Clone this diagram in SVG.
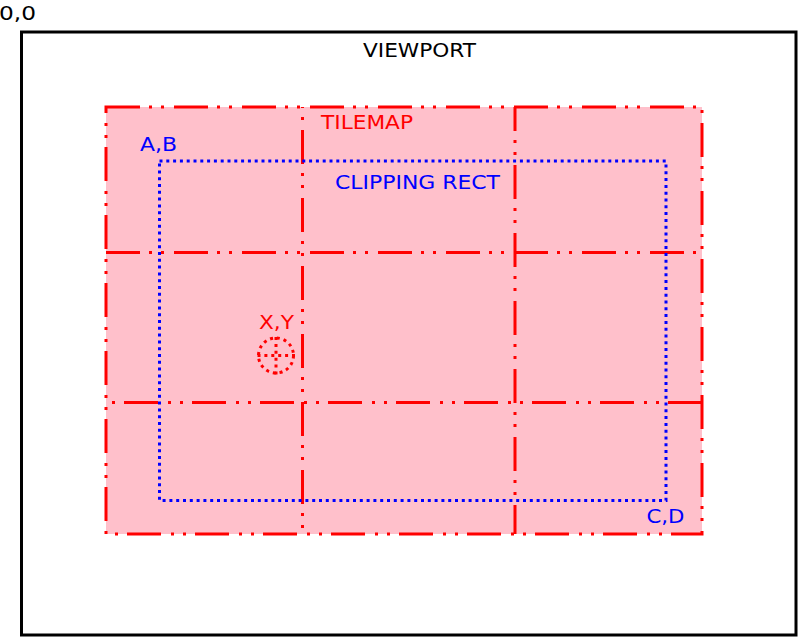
<svg xmlns="http://www.w3.org/2000/svg" width="799" height="638" viewBox="0 0 799 638">
<style>
  text { font-family: "DejaVu Sans", "Liberation Sans", sans-serif; font-size: 20px; }
  .red { fill: #ff0000; }
  .blue { fill: #0000ff; }
  .black { fill: #000000; }
  .dashdot { fill: none; stroke: #ff0000; stroke-width: 3; stroke-dasharray: 34 9 3 9 3 10; }
  .dots { fill: none; stroke: #0000ff; stroke-width: 3; stroke-dasharray: 3 3.8; }
  .rdots { fill: none; stroke: #ff0000; stroke-width: 3; stroke-dasharray: 3 3.9; }
</style>
<rect width="799" height="638" fill="#ffffff"/>
<g id="origin">
  <text class="black" x="-1" y="20" textLength="37" lengthAdjust="spacingAndGlyphs">0,0</text>
</g>
<g id="viewport">
  <rect x="21.5" y="32" width="774.5" height="603" fill="#ffffff" stroke="#000000" stroke-width="3"/>
  <text class="black" x="363" y="57" textLength="113" lengthAdjust="spacingAndGlyphs">VIEWPORT</text>
</g>
<g id="tilemap">
  <rect x="106" y="107" width="596" height="427" fill="#ffc0cb"/>
  <rect x="106" y="107" width="596" height="427" class="dashdot"/>
  <text class="red" x="321" y="129" textLength="92" lengthAdjust="spacingAndGlyphs">TILEMAP</text>
</g>
<g id="connectors">
  <path class="dashdot" d="M106 252.5 H702"/>
  <path class="dashdot" d="M702 402.5 H106"/>
  <path class="dashdot" d="M302.5 107 V534" stroke-dashoffset="45"/>
  <path class="dashdot" d="M515 107 V534" stroke-dashoffset="10"/>
</g>
<g id="clipping-rect">
  <rect x="159.5" y="161" width="506.5" height="339.5" class="dots"/>
  <text class="blue" x="140" y="151" textLength="37" lengthAdjust="spacingAndGlyphs">A,B</text>
  <text class="blue" x="335" y="189" textLength="165" lengthAdjust="spacingAndGlyphs">CLIPPING RECT</text>
  <text class="blue" x="646.5" y="523" textLength="38" lengthAdjust="spacingAndGlyphs">C,D</text>
</g>
<g id="xy-point">
  <circle cx="276" cy="355.5" r="17.5" class="rdots"/>
  <path class="rdots" d="M276 337 V375 M257.5 355.5 H295"/>
  <text class="red" x="259" y="329" textLength="35" lengthAdjust="spacingAndGlyphs">X,Y</text>
</g>
</svg>
